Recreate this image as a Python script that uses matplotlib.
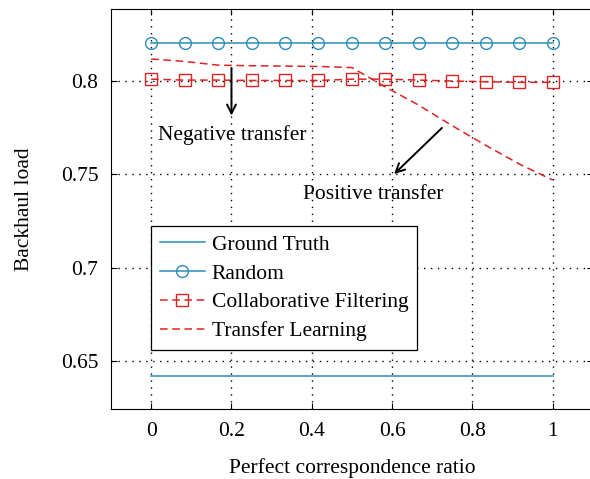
import numpy as np
import matplotlib
matplotlib.use('Agg')
import matplotlib.pyplot as plt

plt.rcParams['font.family'] = ['Liberation Serif', 'DejaVu Serif']
plt.rcParams['mathtext.fontset'] = 'stix'

# perfect correspondence ratio (13 points)
ratio = [0, 1/12, 2/12, 3/12, 4/12, 5/12, 6/12, 7/12, 8/12, 9/12, 10/12, 11/12, 1]

ground_truth = [0.6421] * 13
random_load = [0.8205] * 13
cf_load = [0.8010, 0.8005, 0.8005, 0.8003, 0.8003, 0.8003, 0.8010,
           0.8010, 0.8005, 0.8000, 0.7996, 0.7993, 0.7993]
tl_load = [0.8118, 0.8105, 0.8085, 0.8082, 0.8080, 0.8078, 0.8072,
           0.7968, 0.7870, 0.7760, 0.7655, 0.7555, 0.7469]

xticks = [0, 0.2, 0.4, 0.6, 0.8, 1]
yticks = [0.65, 0.7, 0.75, 0.8]
ytick_labels = ['0.65', '0.7', '0.75', '0.8']

teal = '#2b8db7'
red = '#dd2222'
fs = 15.5

fig = plt.figure(figsize=(5.9, 4.79), dpi=100)
ax = fig.add_axes([0.1881, 0.1461, 0.8169, 0.8351])

ax.plot(ratio, ground_truth, color=teal, lw=1.1, label='Ground Truth')
ax.plot(ratio, random_load, color=teal, lw=1.1, marker='o', ms=8.5,
        mfc='none', mew=1.0, label='Random')
ax.plot(ratio, cf_load, color=red, lw=1.1, ls=(0, (5, 3)), marker='s', ms=8.5,
        mfc='none', mew=1.0, label='Collaborative Filtering')
ax.plot(ratio, tl_load, color=red, lw=1.1, ls=(0, (5, 3)), label='Transfer Learning')

# annotations
ax.annotate('', xy=(0.2, 0.7800), xytext=(0.2, 0.8085),
            arrowprops=dict(arrowstyle='->', lw=1.4, color='black', mutation_scale=16))
ax.text(0.2015, 0.7711, 'Negative transfer', ha='center', va='center', fontsize=fs)
ax.annotate('', xy=(0.600, 0.7491), xytext=(0.729, 0.7759),
            arrowprops=dict(arrowstyle='->', lw=1.4, color='black', mutation_scale=16))
ax.text(0.552, 0.7394, 'Positive transfer', ha='center', va='center', fontsize=fs)

ax.set_xlim(-0.1, 1.1)
ax.set_ylim(0.6242, 0.8386)
ax.set_xticks(xticks)
ax.set_xticklabels(['0', '0.2', '0.4', '0.6', '0.8', '1'])
ax.set_yticks(yticks)
ax.set_yticklabels(ytick_labels)
ax.tick_params(direction='in', top=True, right=True, labelsize=fs, length=4, pad=9)
ax.grid(True, color='black', ls=(0, (1, 4)), lw=1.0)

ax.set_xlabel('Perfect correspondence ratio', fontsize=fs, labelpad=13)
ax.set_ylabel('Backhaul load', fontsize=fs, labelpad=19)

leg = ax.legend(loc='upper left', bbox_to_anchor=(0.083, 0.4575), borderaxespad=0,
                fontsize=fs, fancybox=False, edgecolor='black', framealpha=1,
                handlelength=2.1, handletextpad=0.33, labelspacing=0.41,
                borderpad=0.4)
leg.get_frame().set_linewidth(0.9)

fig.savefig('out.png', dpi=100)
